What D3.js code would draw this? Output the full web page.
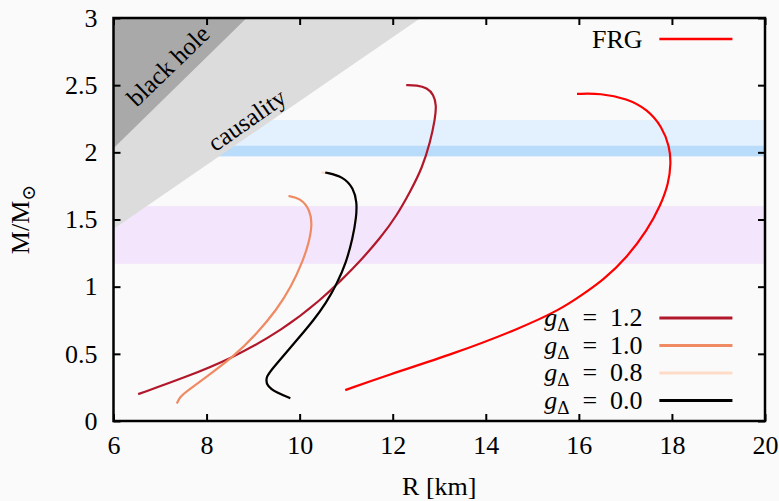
<!DOCTYPE html>
<meta charset="utf-8">
<script src="https://d3js.org/d3.v7.min.js"></script>
<style>
  body { margin: 0; background: #fafafa; }
  svg text { font-family: "Liberation Serif", "Times New Roman", "DejaVu Serif", serif; fill: #000; }
</style>
<body>
<div id="chart"></div>
<script>

// mass-radius curves, [R km, M/Msun]
var frg = [[10.98,0.23],[11.87,0.34],[13.31,0.50],[14.74,0.69],[15.60,0.83],[16.03,0.93],[16.53,1.05],
           [17.04,1.22],[17.47,1.42],[17.75,1.60],[17.93,1.77],[17.98,1.92],[17.95,2.04],[17.79,2.19],
           [17.47,2.32],[17.04,2.40],[16.46,2.44],[15.96,2.435]];
var g12 = [[6.53,0.20],[7.50,0.32],[8.51,0.46],[9.65,0.68],[10.48,0.91],[10.87,1.04],[11.30,1.19],
           [11.73,1.36],[12.09,1.53],[12.38,1.71],[12.63,1.88],[12.81,2.08],[12.91,2.25],[12.94,2.35],
           [12.88,2.43],[12.74,2.48],[12.52,2.50],[12.29,2.50]];
var g10 = [[7.36,0.13],[7.43,0.18],[7.57,0.22],[8.0,0.33],[8.58,0.48],[9.08,0.65],[9.51,0.83],
           [9.82,1.0],[10.08,1.2],[10.19,1.32],[10.27,1.45],[10.23,1.57],[10.01,1.66],[9.76,1.675]];
var g08 = [[9.80,0.17],[9.51,0.21],[9.29,0.26],[9.27,0.33],[9.44,0.40],[10.01,0.63],[10.30,0.75],
           [10.57,0.88],[10.80,1.02],[11.0,1.18],[11.14,1.36],[11.22,1.52],[11.23,1.63],[11.16,1.73],
           [10.94,1.82],[10.55,1.85],[10.47,1.85]];
var g00 = [[9.80,0.17],[9.51,0.21],[9.29,0.26],[9.27,0.33],[9.44,0.40],[10.01,0.63],[10.30,0.75],
           [10.57,0.88],[10.80,1.02],[11.0,1.18],[11.14,1.36],[11.22,1.52],[11.23,1.63],[11.16,1.73],
           [10.94,1.82],[10.55,1.85]];

// shaded regions
var blackHole = [[6,2.03],[8.86,3],[6,3]];
var causality = [[6,1.43],[12.6,3],[6,3]];
var bands = [
  {lo: 1.17, hi: 1.60, color: "#f3e6fc"},
  {lo: 2.05, hi: 2.24, color: "#e3f0fd"},
  {lo: 1.97, hi: 2.05, color: "#b8dcfa"}
];

var xTicks = [6, 8, 10, 12, 14, 16, 18, 20];
var yTicks = [0, 0.5, 1, 1.5, 2, 2.5, 3];
var gLabels = ["1.2", "1.0", "0.8", "0.0"];
var gColors = ["#b2182b", "#ef8a62", "#fddbc7", "#000000"];

var W = 779, H = 501;
var margin = {top: 18, right: 14, bottom: 80, left: 113.5};
var width = W - margin.left - margin.right,
    height = H - margin.top - margin.bottom;

var svg = d3.select("#chart").append("svg")
    .attr("width", W).attr("height", H);

var g = svg.append("g")
    .attr("transform", "translate(" + margin.left + "," + margin.top + ")");

var x = d3.scaleLinear().domain([6, 20]).range([0, width]);
var y = d3.scaleLinear().domain([0, 3]).range([height, 0]);

g.append("clipPath").attr("id", "clip")
  .append("rect").attr("width", width).attr("height", height);

var area = g.append("g").attr("clip-path", "url(#clip)");

area.selectAll(".band")
  .data(bands)
  .enter().append("rect")
    .attr("x", 0)
    .attr("width", width)
    .attr("y", function(d) { return y(d.hi); })
    .attr("height", function(d) { return y(d.lo) - y(d.hi); })
    .attr("fill", function(d) { return d.color; });

var poly = d3.line().x(function(d) { return x(d[0]); }).y(function(d) { return y(d[1]); });

area.append("path").attr("d", poly(causality) + "Z").attr("fill", "#dcdcdc");
area.append("path").attr("d", poly(blackHole) + "Z").attr("fill", "#a9a9a9");

g.append("text")
  .attr("transform", "translate(" + x(7.3) + "," + y(2.6) + ") rotate(-44)")
  .attr("text-anchor", "middle")
  .style("font-size", "25px")
  .text("black hole");

g.append("text")
  .attr("transform", "translate(" + x(8.97) + "," + y(2.19) + ") rotate(-35)")
  .attr("text-anchor", "middle")
  .style("font-size", "25px")
  .text("causality");

var curve = d3.line()
  .x(function(d) { return x(d[0]); })
  .y(function(d) { return y(d[1]); })
  .curve(d3.curveBasis);

var series = [
  {data: frg, color: "#ff0000"},
  {data: g12, color: gColors[0]},
  {data: g10, color: gColors[1]},
  {data: g08, color: gColors[2]},
  {data: g00, color: gColors[3]}
];

area.selectAll(".curve")
  .data(series)
  .enter().append("path")
    .attr("d", function(d) { return curve(d.data); })
    .attr("fill", "none")
    .attr("stroke", function(d) { return d.color; })
    .attr("stroke-width", 2.2);

// axes, ticks pointing inward on all four sides
function styleAxis(sel) {
  sel.select(".domain").remove();
  sel.attr("font-family", null);
  sel.selectAll("line").attr("stroke", "#000").attr("stroke-width", 2);
  sel.selectAll("text").style("font-size", "26px");
}

g.append("g")
  .attr("transform", "translate(0," + height + ")")
  .call(d3.axisBottom(x).tickValues(xTicks).tickSize(-7).tickPadding(15).tickFormat(d3.format("d")))
  .call(styleAxis);

g.append("g")
  .call(d3.axisTop(x).tickValues(xTicks).tickSize(-7).tickFormat(""))
  .call(styleAxis);

g.append("g")
  .call(d3.axisLeft(y).tickValues(yTicks).tickSize(-7).tickPadding(16).tickFormat(function(d) { return d; }))
  .call(styleAxis);

g.append("g")
  .attr("transform", "translate(" + width + ",0)")
  .call(d3.axisRight(y).tickValues(yTicks).tickSize(-7).tickFormat(""))
  .call(styleAxis);

g.append("rect")
  .attr("width", width).attr("height", height)
  .attr("fill", "none").attr("stroke", "#000").attr("stroke-width", 2.5);

// axis titles
svg.append("text")
  .attr("x", margin.left + width / 2)
  .attr("y", 495)
  .attr("text-anchor", "middle")
  .style("font-size", "26px")
  .text("R [km]");

var yl = svg.append("text")
  .attr("transform", "translate(29," + (margin.top + height / 2) + ") rotate(-90)")
  .attr("text-anchor", "middle")
  .style("font-size", "26px");
yl.append("tspan").text("M/M");
yl.append("tspan").attr("dy", 6).style("font-size", "19px").text("\u2299");

// legends
var legX = x(17.73), legX2 = x(19.3), legT = x(17.37);

g.append("text")
  .attr("x", legT).attr("y", 21 + 9)
  .attr("text-anchor", "end")
  .style("font-size", "26px")
  .text("FRG");
g.append("line")
  .attr("x1", legX).attr("x2", legX2)
  .attr("y1", 21).attr("y2", 21)
  .attr("stroke", "#ff0000").attr("stroke-width", 2.5);

var leg = g.selectAll(".leg")
  .data(gLabels)
  .enter().append("g")
    .attr("transform", function(d, i) { return "translate(0," + (300 + i * 27.5) + ")"; });

leg.append("line")
  .attr("x1", legX).attr("x2", legX2)
  .attr("stroke", function(d, i) { return gColors[i]; })
  .attr("stroke-width", 3);

var lt = leg.append("text")
  .attr("x", legT).attr("y", 8)
  .attr("text-anchor", "end")
  .style("font-size", "26px");
lt.append("tspan").style("font-style", "italic").text("g");
lt.append("tspan").attr("dy", 5).style("font-size", "19px").text("\u0394");
lt.append("tspan").attr("dy", -5).text(function(d) { return "\u2002=\u2002" + d; });

</script>
</body>
